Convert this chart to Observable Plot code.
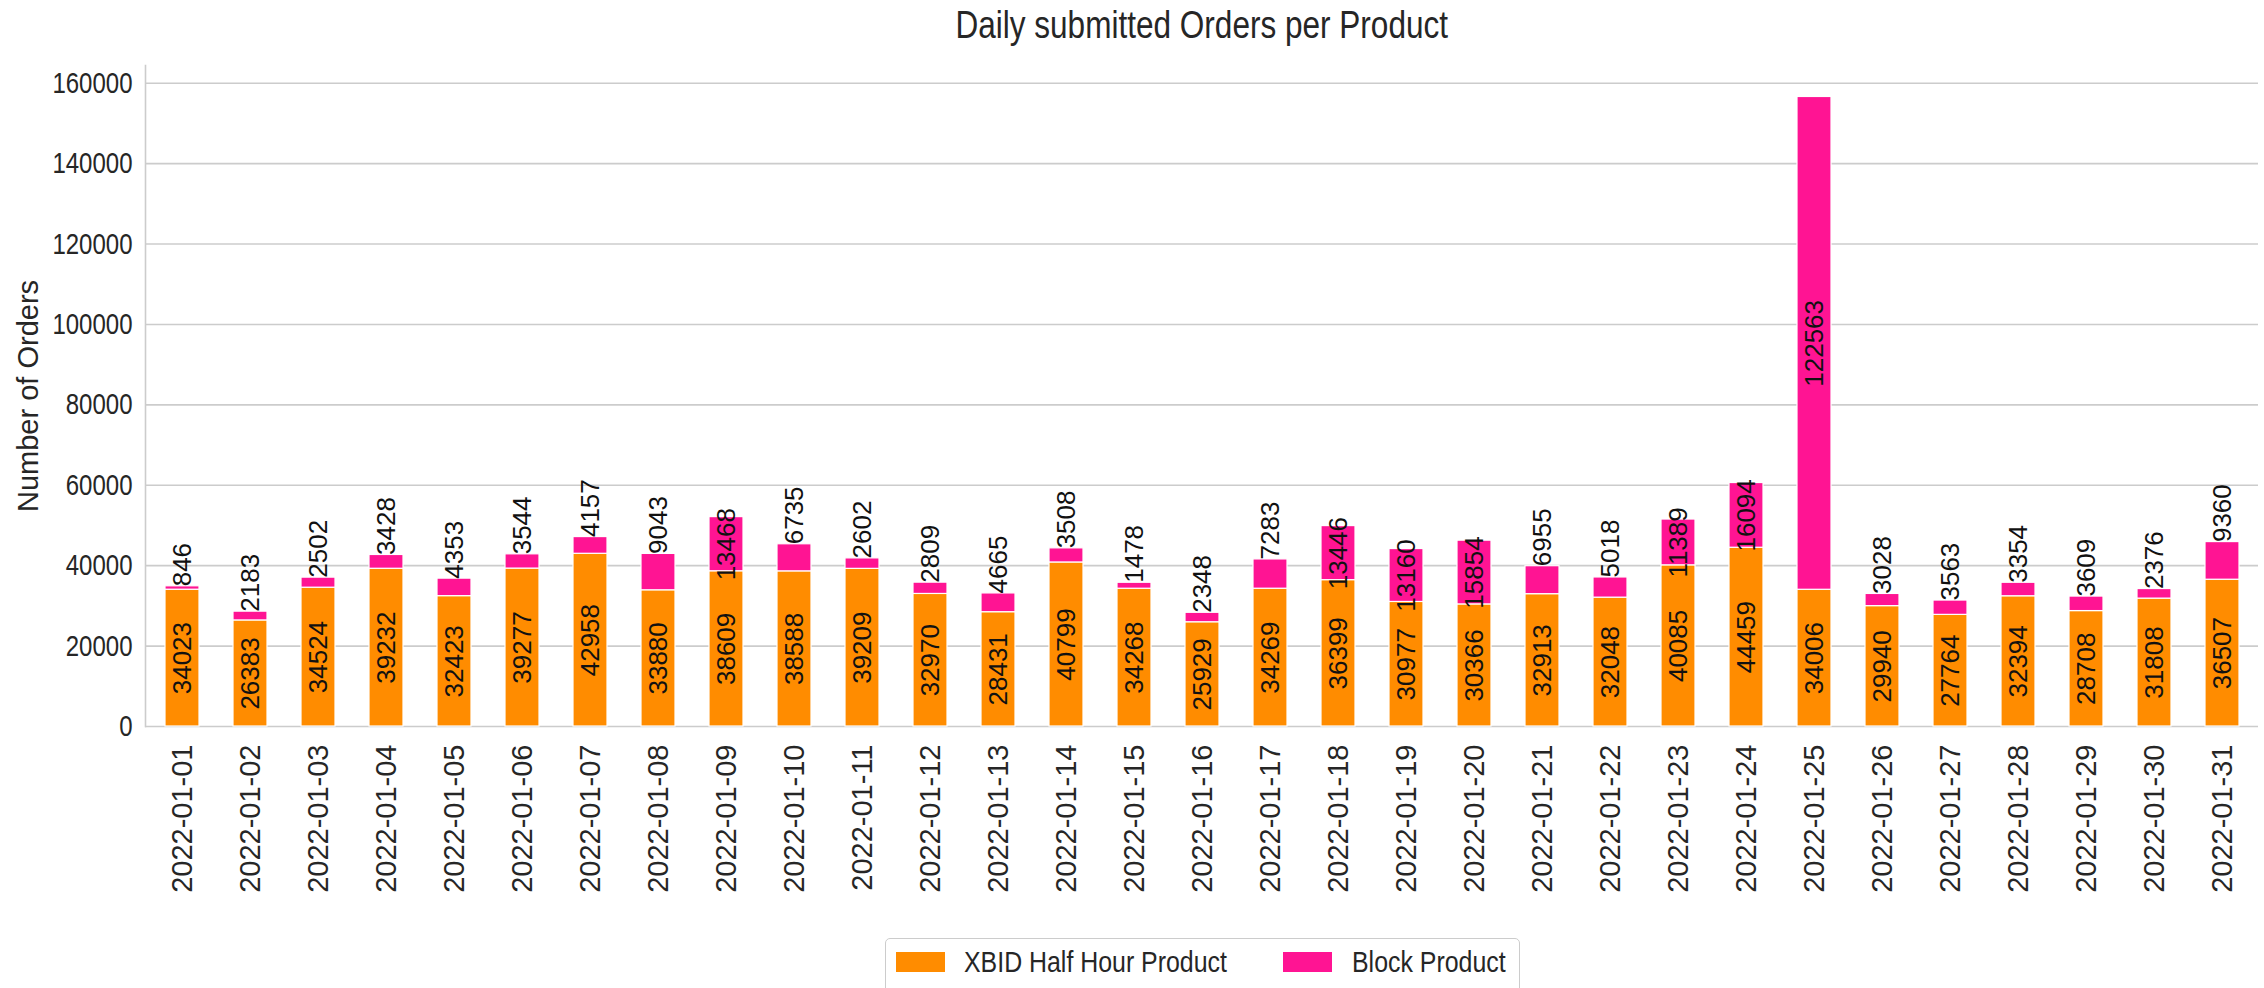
<!DOCTYPE html>
<html>
<head>
<meta charset="utf-8">
<script src="https://cdn.jsdelivr.net/npm/d3@7"></script>
<script src="https://cdn.jsdelivr.net/npm/@observablehq/plot@0.6"></script>
<style>
  html, body { margin: 0; padding: 0; background: #fff; }
  body { width: 2264px; height: 988px; overflow: hidden; }
  #title {
    margin-left: 145px; width: 2113px; height: 50px; line-height: 50px;
    text-align: center; color: #262626; white-space: nowrap;
    font-family: 'Liberation Sans', Arial, sans-serif; font-size: 38px;
  }
  #title span { display: inline-block; transform: scaleX(0.83); transform-origin: center; }
  #legend {
    position: relative;
    margin-left: 885px; margin-top: 8px; width: 635px; height: 62px;
    box-sizing: border-box; border: 1.5px solid #cccccc; border-radius: 5px; background: #fff;
    font-family: 'Liberation Sans', Arial, sans-serif; font-size: 30px; color: #262626;
  }
  .sw { position: absolute; top: 13px; width: 49px; height: 20px; }
  .lt { position: absolute; top: 6px; line-height: 34px; white-space: nowrap;
        transform: scaleX(0.83); transform-origin: left center; }
</style>
</head>
<body>
<div id="title"><span>Daily submitted Orders per Product</span></div>
<div id="chart"></div>
<div id="legend"></div>
<script>
const dates = [
  "2022-01-01","2022-01-02","2022-01-03","2022-01-04","2022-01-05","2022-01-06","2022-01-07",
  "2022-01-08","2022-01-09","2022-01-10","2022-01-11","2022-01-12","2022-01-13","2022-01-14",
  "2022-01-15","2022-01-16","2022-01-17","2022-01-18","2022-01-19","2022-01-20","2022-01-21",
  "2022-01-22","2022-01-23","2022-01-24","2022-01-25","2022-01-26","2022-01-27","2022-01-28",
  "2022-01-29","2022-01-30","2022-01-31"
];
const xbidHalfHour = [
  34023, 26383, 34524, 39232, 32423, 39277, 42958, 33880, 38609, 38588, 39209,
  32970, 28431, 40799, 34268, 25929, 34269, 36399, 30977, 30366, 32913, 32048,
  40085, 44459, 34006, 29940, 27764, 32394, 28708, 31808, 36507
];
const blockProduct = [
  846, 2183, 2502, 3428, 4353, 3544, 4157, 9043, 13468, 6735, 2602,
  2809, 4665, 3508, 1478, 2348, 7283, 13446, 13160, 15854, 6955, 5018,
  11389, 16094, 122563, 3028, 3563, 3354, 3609, 2376, 9360
];
const products = ["XBID Half Hour Product", "Block Product"];
const colors = ["#ff8c00", "#ff1493"];
const yTicks = [0, 20000, 40000, 60000, 80000, 100000, 120000, 140000, 160000];

const rows = [];
dates.forEach((d, i) => {
  rows.push({date: d, product: products[0], value: xbidHalfHour[i]});
  rows.push({date: d, product: products[1], value: blockProduct[i]});
});

const totals = dates.map((d, i) => xbidHalfHour[i] + blockProduct[i]);
const yMax = d3.max(totals) * 1.05;

const orangeLabels = dates.map((d, i) => ({date: d, y: xbidHalfHour[i] / 2, text: String(xbidHalfHour[i])}));
const pinkCenter = [], pinkEdge = [];
dates.forEach((d, i) => {
  const v = blockProduct[i];
  if (v >= 10000) pinkCenter.push({date: d, y: xbidHalfHour[i] + v / 2, text: String(v)});
  else pinkEdge.push({date: d, y: xbidHalfHour[i] + v, text: String(v)});
});

const font = "'Liberation Sans', Arial, Helvetica, sans-serif";

const chart = Plot.plot({
  width: 2264,
  height: 880,
  marginLeft: 145,
  marginRight: 6,
  marginTop: 15,
  marginBottom: 204,
  style: {background: "white", fontFamily: font, color: "#262626"},
  x: {type: "band", domain: dates, paddingInner: 0.5, paddingOuter: 0.25, axis: null},
  y: {domain: [0, yMax], axis: null},
  color: {domain: products, range: colors},
  marks: [
    Plot.ruleY(yTicks, {stroke: "#cccccc", strokeWidth: 1.6}),
    Plot.frame({anchor: "left", stroke: "#cccccc", strokeWidth: 1.6}),
    Plot.barY(rows, Plot.stackY({x: "date", y: "value", fill: "product", order: products, stroke: "white", strokeWidth: 1.2})),
    Plot.text(orangeLabels, {x: "date", y: "y", text: "text", rotate: -90, fontSize: 26, fill: "#111"}),
    Plot.text(pinkCenter, {x: "date", y: "y", text: "text", rotate: -90, fontSize: 26, fill: "#111"}),
    Plot.text(pinkEdge, {x: "date", y: "y", text: "text", rotate: -90, textAnchor: "start", fontSize: 26, fill: "#111"}),
    Plot.axisX({tickRotate: -90, tickSize: 0, tickPadding: 18, fontSize: 29, fill: "#262626", label: null}),
    Plot.axisY({ticks: yTicks, tickFormat: d => String(d), tickSize: 0, tickPadding: 13, fontSize: 30, fill: "#262626", label: null}),
    Plot.text(["Number of Orders"], {text: d => d, frameAnchor: "left", textAnchor: "middle", dx: -117, rotate: -90, fontSize: 29, fill: "#262626"})
  ]
});
document.getElementById("chart").appendChild(chart);

// condensed look of the horizontal y tick labels (glyphs compressed to 80% width)
const tickStrings = new Set(yTicks.map(String));
chart.querySelectorAll("text").forEach(t => {
  const tr = t.getAttribute("transform") || "";
  if (/rotate/.test(tr)) return;
  if (!tickStrings.has(t.textContent.trim())) return;
  const len = t.getComputedTextLength();
  if (len > 0) {
    t.setAttribute("textLength", (len * 0.8).toFixed(2));
    t.setAttribute("lengthAdjust", "spacingAndGlyphs");
  }
});

const legend = document.getElementById("legend");
const swLeft = [10, 397], txLeft = [78, 466];
products.forEach((p, i) => {
  const sw = document.createElement("span");
  sw.className = "sw";
  sw.style.left = swLeft[i] + "px";
  sw.style.background = colors[i];
  const tx = document.createElement("span");
  tx.className = "lt";
  tx.style.left = txLeft[i] + "px";
  tx.textContent = p;
  legend.appendChild(sw);
  legend.appendChild(tx);
});
</script>
</body>
</html>
